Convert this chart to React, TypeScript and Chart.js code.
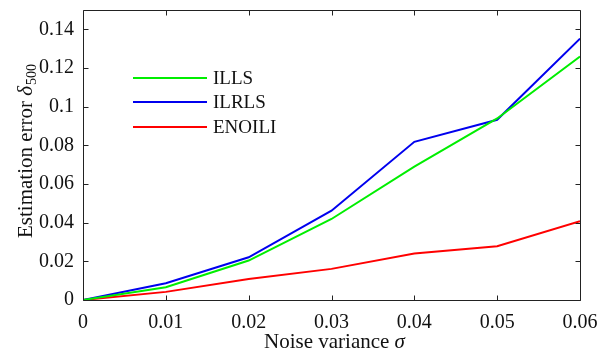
import React, { useEffect, useRef } from "react";
import { Chart, registerables } from "chart.js";

Chart.register(...registerables);

const xValues = [0, 0.01, 0.02, 0.03, 0.04, 0.05, 0.06];
const illsValues = [0, 0.0066, 0.0204, 0.0419, 0.069, 0.0939, 0.1259];
const ilrlsValues = [0, 0.0087, 0.0221, 0.0462, 0.0818, 0.0932, 0.1352];
const enoiliValues = [0, 0.0042, 0.0109, 0.0161, 0.024, 0.0278, 0.0407];
const seriesNames = ["ILLS", "ILRLS", "ENOILI"];
const seriesColors = ["#00ee00", "#0000ee", "#ff0000"];
const xTickLabels = ["0", "0.01", "0.02", "0.03", "0.04", "0.05", "0.06"];
const yTickLabels = ["0", "0.02", "0.04", "0.06", "0.08", "0.1", "0.12", "0.14"];

const FONT = "Liberation Serif";
const QFONT = '"Liberation Serif", serif';
const W = 599;
const H = 355;

Chart.defaults.font.family = QFONT;

export default function App() {
  const ref = useRef<HTMLCanvasElement | null>(null);

  useEffect(() => {
    if (!ref.current) return;

    const overlay = {
      id: "overlay",
      afterDraw(chart: any) {
        const ctx = chart.ctx;
        const a = chart.chartArea;
        const xs = chart.scales.x;
        const ys = chart.scales.y;
        ctx.save();
        ctx.setLineDash([]);
        // box
        const L = Math.round(a.left) + 0.5;
        const R = Math.round(a.right) + 0.5;
        const T = Math.round(a.top) + 0.5;
        const B = Math.round(a.bottom) + 0.5;
        ctx.strokeStyle = "#222222";
        ctx.lineWidth = 1;
        ctx.beginPath();
        ctx.moveTo(L, T);
        ctx.lineTo(R, T);
        ctx.lineTo(R, B);
        ctx.lineTo(L, B);
        ctx.closePath();
        // inward ticks
        const tl = 5;
        xValues.forEach((v) => {
          const px = Math.round(xs.getPixelForValue(v)) + 0.5;
          ctx.moveTo(px, B);
          ctx.lineTo(px, B - tl);
          ctx.moveTo(px, T);
          ctx.lineTo(px, T + tl);
        });
        yTickLabels.forEach((s) => {
          const py = Math.round(ys.getPixelForValue(parseFloat(s))) + 0.5;
          ctx.moveTo(L, py);
          ctx.lineTo(L + tl, py);
          ctx.moveTo(R, py);
          ctx.lineTo(R - tl, py);
        });
        ctx.stroke();

        // legend
        const lx0 = 133;
        const lx1 = 207;
        const rows = [78, 102, 127];
        ctx.font = `19px "${FONT}"`;
        ctx.textBaseline = "middle";
        ctx.textAlign = "left";
        seriesNames.forEach((n, i) => {
          ctx.strokeStyle = seriesColors[i];
          ctx.lineWidth = 2;
          ctx.beginPath();
          ctx.moveTo(lx0, rows[i]);
          ctx.lineTo(lx1, rows[i]);
          ctx.stroke();
          ctx.fillStyle = "#111";
          ctx.fillText(n, 213, rows[i] + 1);
        });

        // x title
        ctx.fillStyle = "#111";
        ctx.textBaseline = "alphabetic";
        const xt1 = "Noise variance ";
        ctx.font = `21px "${FONT}"`;
        const w1 = ctx.measureText(xt1).width;
        ctx.font = `italic 21px "${FONT}"`;
        const w2 = ctx.measureText("σ").width;
        const cx = (a.left + a.right) / 2 + 3;
        const sx = cx - (w1 + w2) / 2;
        ctx.font = `21px "${FONT}"`;
        ctx.fillText(xt1, sx, 348);
        ctx.font = `italic 21px "${FONT}"`;
        ctx.fillText("σ", sx + w1, 348);

        // y title
        ctx.translate(32, (a.top + a.bottom) / 2 - 4);
        ctx.rotate(-Math.PI / 2);
        const yt = "Estimation error ";
        ctx.font = `21px "${FONT}"`;
        const yw1 = ctx.measureText(yt).width;
        ctx.font = `italic 21px "${FONT}"`;
        const yw2 = ctx.measureText("δ").width;
        ctx.font = `14px "${FONT}"`;
        const yw3 = ctx.measureText("500").width;
        const total = yw1 + yw2 + yw3 + 1;
        let px = -total / 2;
        ctx.font = `21px "${FONT}"`;
        ctx.fillText(yt, px, 0);
        px += yw1;
        ctx.font = `italic 21px "${FONT}"`;
        ctx.fillText("δ", px, 0);
        px += yw2 + 1;
        ctx.font = `14px "${FONT}"`;
        ctx.fillText("500", px, 4);
        ctx.restore();
      },
    };

    const mk = (label: string, data: number[], color: string) => ({
      label,
      data: xValues.map((x, i) => ({ x, y: data[i] })),
      borderColor: color,
      backgroundColor: color,
      borderWidth: 2,
      pointRadius: 0,
      tension: 0,
      fill: false,
    });

    const chart = new Chart(ref.current, {
      type: "line",
      data: {
        datasets: [
          mk(seriesNames[0], illsValues, seriesColors[0]),
          mk(seriesNames[1], ilrlsValues, seriesColors[1]),
          mk(seriesNames[2], enoiliValues, seriesColors[2]),
        ],
      },
      options: {
        responsive: false,
        animation: false,
        devicePixelRatio: 1,
        layout: { padding: { left: 0, right: 19, top: 10, bottom: 0 } },
        plugins: { legend: { display: false }, tooltip: { enabled: false } },
        scales: {
          x: {
            type: "linear",
            min: 0,
            max: 0.06,
            grid: { display: false, drawTicks: false },
            border: { display: false },
            afterBuildTicks: (s: any) => {
              s.ticks = xValues.map((v) => ({ value: v }));
            },
            afterFit: (s: any) => {
              s.height = 55;
              s.paddingLeft = 0;
              s.paddingRight = 0;
            },
            ticks: {
              padding: 11,
              color: "#111",
              font: { family: QFONT, size: 20 },
              maxRotation: 0,
              autoSkip: false,
              callback: (_v: any, i: number) => xTickLabels[i],
            },
          },
          y: {
            type: "linear",
            min: 0,
            max: 0.15,
            grid: { display: false, drawTicks: false },
            border: { display: false },
            afterBuildTicks: (s: any) => {
              s.ticks = yTickLabels.map((t) => ({ value: parseFloat(t) }));
            },
            afterFit: (s: any) => {
              s.width = 83;
              s.paddingTop = 0;
              s.paddingBottom = 0;
            },
            ticks: {
              padding: 9,
              color: "#111",
              font: { family: QFONT, size: 20 },
              autoSkip: false,
              callback: (_v: any, i: number) => yTickLabels[i],
            },
          },
        },
      },
      plugins: [overlay],
    });
    return () => chart.destroy();
  }, []);

  return (
    <div style={{ position: "fixed", left: 0, top: 0, width: W, height: H, background: "#fff" }}>
      <canvas ref={ref} width={W} height={H} style={{ width: W, height: H }} />
    </div>
  );
}
